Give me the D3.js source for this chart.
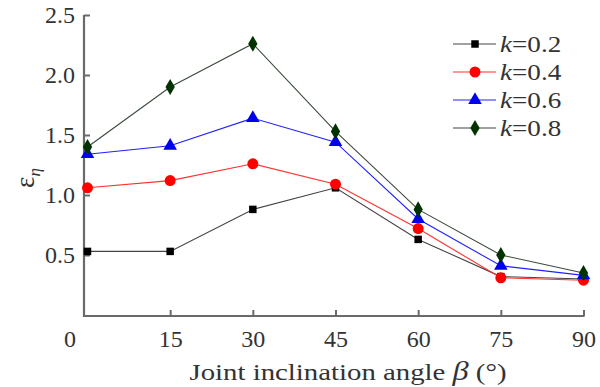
<!DOCTYPE html>
<html><head><meta charset="utf-8">
<script src="https://cdn.jsdelivr.net/npm/d3@7"></script>
<style>body{margin:0;background:#fff}svg{display:block}</style>
</head><body><svg id="c" width="600" height="387"></svg>
<script>
const angles = [0, 15, 30, 45, 60, 75, 90];
const k02 = [0.53, 0.53, 0.88, 1.06, 0.63, 0.32, 0.30];
const k04 = [1.06, 1.12, 1.26, 1.09, 0.72, 0.31, 0.29];
const k06 = [1.34, 1.41, 1.64, 1.44, 0.80, 0.41, 0.33];
const k08 = [1.40, 1.90, 2.26, 1.53, 0.88, 0.50, 0.35];
const seriesNames = ["k=0.2", "k=0.4", "k=0.6", "k=0.8"];
const xTicks = [0, 15, 30, 45, 60, 75, 90];
const yTicks = [0.5, 1.0, 1.5, 2.0, 2.5];

const FONT = "'Liberation Serif', 'Times New Roman', serif";
const series = [
  {name: seriesNames[0], values: k02, line: "#444", fill: "#000", sym: d3.symbolSquare, size: 56},
  {name: seriesNames[1], values: k04, line: "#ff3030", fill: "#ff0000", sym: d3.symbolCircle, size: 95},
  {name: seriesNames[2], values: k06, line: "#2020ff", fill: "#0000ee", sym: d3.symbolTriangle, size: 80},
  {name: seriesNames[3], values: k08, line: "#3a4a3a", fill: "#003300", sym: d3.symbolDiamond, size: 75}
];

const svg = d3.select("#c");
const x = d3.scaleLinear().domain([0, 90]).range([87.5, 583.5]);
const y = d3.scaleLinear().domain([0, 2.5]).range([315, 15]);
const axisCol = "#6a6a6a";

svg.append("line").attr("x1", 84).attr("x2", 84).attr("y1", 15).attr("y2", 317)
  .attr("stroke", axisCol).attr("stroke-width", 2.2);
svg.append("line").attr("x1", 83).attr("x2", x(90) + 1).attr("y1", 316).attr("y2", 316)
  .attr("stroke", axisCol).attr("stroke-width", 2.2);

const gy = svg.append("g").attr("transform", "translate(84,0)")
  .call(d3.axisRight(y).tickValues(yTicks).tickSize(6).tickFormat(d3.format(".1f")));
gy.select(".domain").remove();
gy.selectAll(".tick line").attr("stroke", axisCol).attr("stroke-width", 2);
gy.selectAll(".tick text").attr("x", -9).attr("text-anchor", "end").attr("fill", "#333")
  .style("font-size", "24px").style("font-family", FONT);

const gx = svg.append("g").attr("transform", "translate(0,316)")
  .call(d3.axisTop(x).tickValues(xTicks).tickSize(6).tickFormat(d3.format("d")));
gx.select(".domain").remove();
gx.selectAll(".tick line").attr("stroke", axisCol).attr("stroke-width", 2)
  .filter(d => d === 0).remove();
gx.selectAll(".tick text").attr("y", 31).attr("fill", "#333")
  .style("font-size", "24px").style("font-family", FONT)
  .attr("dx", d => d === 0 ? -18 : 0);

const line = d3.line().x((d, i) => x(angles[i])).y(d => y(d));
series.forEach(s => {
  svg.append("path").attr("d", line(s.values)).attr("fill", "none")
    .attr("stroke", s.line).attr("stroke-width", 1.1);
});
series.forEach(s => {
  svg.append("g").selectAll("path").data(s.values).join("path")
    .attr("transform", (d, i) => `translate(${x(angles[i])},${y(d)})`)
    .attr("d", d3.symbol().type(s.sym).size(s.size)).attr("fill", s.fill);
});

const lg = svg.append("g");
series.forEach((s, i) => {
  const ly = 44 + i * 28;
  lg.append("line").attr("x1", 453).attr("x2", 496).attr("y1", ly).attr("y2", ly)
    .attr("stroke", s.line).attr("stroke-width", 1.1);
  lg.append("path").attr("transform", `translate(475,${ly})`)
    .attr("d", d3.symbol().type(s.sym).size(s.size)).attr("fill", s.fill);
  const t = lg.append("text").attr("transform", `translate(500,${ly + 8}) scale(1.18,1)`)
    .style("font-size", "23px").style("font-family", FONT).attr("fill", "#333");
  const parts = s.name.split("=");
  t.append("tspan").style("font-style", "italic").text(parts[0]);
  t.append("tspan").text("=" + parts[1]);
});

const xl = svg.append("text").attr("transform", "translate(348,380) scale(1.2,1)")
  .attr("text-anchor", "middle")
  .style("font-size", "24px").style("font-family", FONT).attr("fill", "#333");
xl.append("tspan").text("Joint inclination angle ");
xl.append("tspan").style("font-style", "italic").style("font-size", "27px").text("β");
xl.append("tspan").text(" (°)");

const yl = svg.append("text").attr("transform", "translate(34,178) rotate(-90)")
  .attr("text-anchor", "middle").style("font-size", "27px").style("font-family", FONT).attr("fill", "#333");
yl.append("tspan").text("ε");
yl.append("tspan").style("font-style", "italic").style("font-size", "17px").attr("dy", 6).text("η");
</script></body></html>
